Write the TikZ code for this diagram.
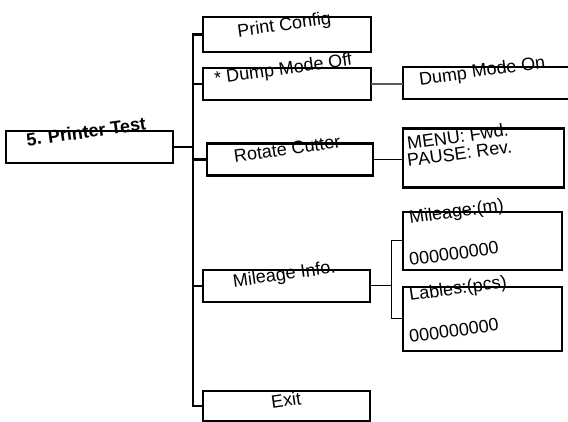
\documentclass[tikz,border=0pt]{standalone}
\usepackage{fontspec}
\setmainfont{Liberation Sans}
\begin{document}
\begin{tikzpicture}[x=1pt,y=-1pt,
  box/.style={draw=black,line width=2.4pt,fill=white,inner sep=0pt,outer sep=0pt},
  lbl/.style={inner sep=0pt,rotate=8,font=\fontsize{18}{20}\selectfont},
  conn/.style={draw=black,line width=2.4pt},
  mid/.style={draw=black,line width=1.6pt},
  thin/.style={draw=black,line width=1pt}]
\clip (0,0) rectangle (568,422);
\fill[white] (0,0) rectangle (568,422);
% boxes
\node[box,minimum width=167pt,minimum height=32pt] (pt) at (89.5,147) {};
\node[box,minimum width=168pt,minimum height=35pt] (pc) at (287,34.5) {};
\node[box,minimum width=168pt,minimum height=32pt] (dmo) at (287,84) {};
\node[box,minimum width=177pt,minimum height=32pt] (dmon) at (491.5,83) {};
\node[box,minimum width=166pt,minimum height=32pt] (rc) at (290,159.5) {};
\node[box,minimum width=161pt,minimum height=59pt] (menu) at (483.5,158) {};
\node[box,minimum width=167pt,minimum height=32pt] (mi) at (286.5,286) {};
\node[box,minimum width=159pt,minimum height=58pt] (mil) at (482.5,241) {};
\node[box,minimum width=159pt,minimum height=64pt] (lab) at (482.5,319) {};
\node[box,minimum width=167pt,minimum height=30pt] (ex) at (286.5,406) {};
% trunk
\coordinate (tr) at (193,0);
\coordinate (sp) at (391,0);
\draw[conn] (pc.west) -- (pc.west -| tr) -- (ex.west -| tr) -- (ex.west);
\draw[conn] (pt.east) -- (pt.east -| tr);
\draw[conn] (dmo.west) -- (dmo.west -| tr);
\draw[conn] (rc.west) -- (rc.west -| tr);
\draw[conn] (mi.west) -- (mi.west -| tr);
% side connectors
\draw[draw=black!65,line width=1.4pt] (dmo.east) -- (dmo.east -| dmon.west);
\draw[mid] (rc.east) -- (rc.east -| menu.west);
\draw[thin] (mi.east) -- (mi.east -| sp);
\draw[thin] (mil.west) -- (mil.west -| sp) -- (lab.west -| sp) -- (lab.west);
% labels
\node[lbl,anchor=base,font=\fontsize{18}{20}\selectfont\bfseries] (tpt) at (87,138) {5. Printer Test};
\node[lbl,anchor=base] (tpc) at (285,30.5) {Print Config};
\node[lbl,anchor=base] (tdmo) at (284,74.5) {* Dump Mode Off};
\node[lbl,anchor=base] (tdmon) at (483,76.5) {Dump Mode On};
\node[lbl,anchor=base] (trc) at (288,155) {Rotate Cutter};
\node[lbl,anchor=base] (tmi) at (285,280) {Mileage Info.};
\node[lbl,anchor=base] (tex) at (287,406.5) {Exit};
\node[lbl,anchor=base west] (tm1) at (408,150) {MENU: Fwd.};
\node[lbl,anchor=base west] (tm2) at (408,167) {PAUSE: Rev.};
\node[lbl,anchor=base west] (tml) at (410,224) {Mileage:(m)};
\node[lbl,anchor=base west] (tml2) at (410,266) {000000000};
\node[lbl,anchor=base west] (tlb) at (410,301) {Lables:(pcs)};
\node[lbl,anchor=base west] (tlb2) at (410,343) {000000000};
\end{tikzpicture}
\end{document}
